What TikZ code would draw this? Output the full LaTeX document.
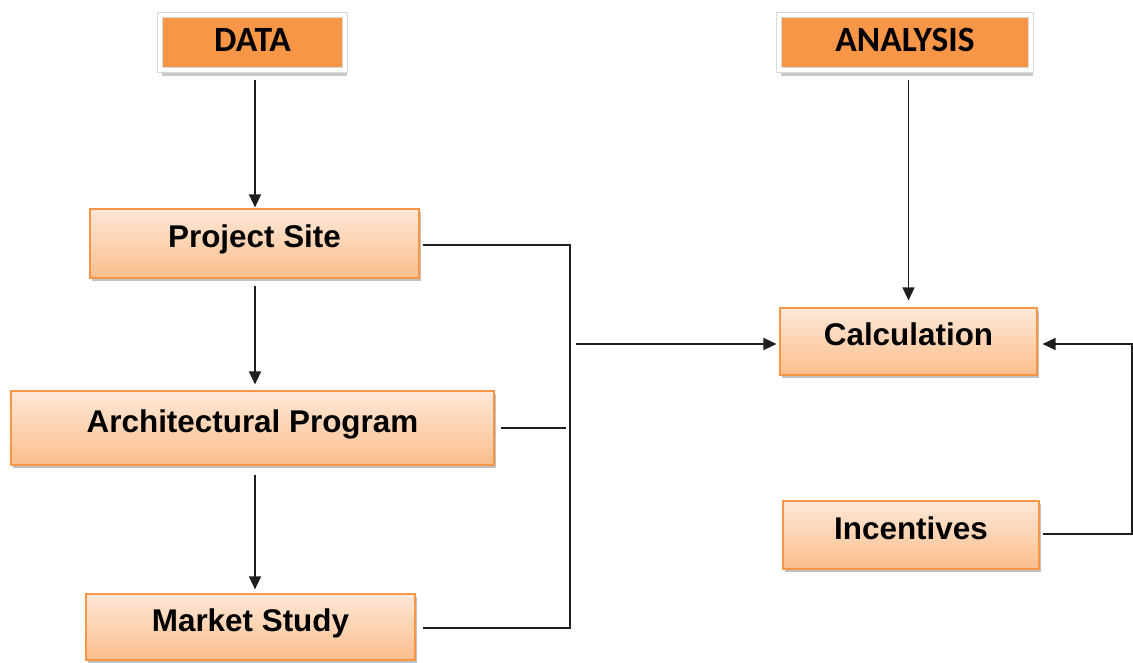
\documentclass[tikz,border=0pt]{standalone}
\usepackage{fontspec}
\usetikzlibrary{arrows.meta,shadows,calc}
\newfontfamily\boxfont{Liberation Sans}
\newfontfamily\headfont{Carlito}
\definecolor{accent}{HTML}{F79646}
\definecolor{peachtop}{HTML}{FEE8D8}
\definecolor{peachbot}{HTML}{FBBE8C}
\definecolor{wire}{HTML}{1E1E1E}
\tikzset{
  boxshadow/.style={drop shadow={shadow xshift=2pt,shadow yshift=-3pt,opacity=0.35,fill=black!70}},
  headbox/.style={rectangle,fill=accent,draw=black!15,line width=0.6pt,double=white,double distance=4.6pt,
    drop shadow={shadow xshift=1.5pt,shadow yshift=-6.5pt,opacity=0.3,fill=black!70},
    font=\headfont\bfseries\fontsize{35.5}{40}\selectfont,text=black,
    text height=23pt,text depth=4pt,inner sep=0pt},
  stepbox/.style={rectangle,draw=accent,line width=1.2pt,top color=peachtop,bottom color=peachbot,
    boxshadow,font=\boxfont\bfseries\fontsize{31.4}{36}\selectfont,text=black,
    text height=22pt,text depth=14pt,inner sep=0pt},
  wireline/.style={draw=wire,line width=1.6pt},
  arrowline/.style={wireline,-{Triangle[length=13pt,width=12pt]}},
}
\begin{document}
\begin{tikzpicture}[x=1pt,y=-1pt]
\useasboundingbox (0,0) rectangle (1133,663);

% column headers
\node[headbox,minimum width=185pt,minimum height=55pt] (data) at (252.5,42.5) {DATA};
\node[headbox,minimum width=252pt,minimum height=55pt] (analysis) at (905,42.5) {ANALYSIS};

% data inputs
\node[stepbox,minimum width=329pt,minimum height=69pt] (site) at (254.5,243.5) {Project Site};
\node[stepbox,minimum width=483pt,minimum height=74pt] (arch) at (252.5,428) {Architectural Program};
\node[stepbox,minimum width=329pt,minimum height=66pt] (market) at (250.5,627) {Market Study};

% analysis side
\node[stepbox,minimum width=257pt,minimum height=67pt] (calc) at (908.5,341.5) {Calculation};
\node[stepbox,minimum width=256pt,minimum height=68pt] (incent) at (911,535) {Incentives};

% bracket and return-line positions
\coordinate (brk) at (570,628);
\coordinate (rt) at (1132,440);

% vertical flow in the data column
\draw[arrowline,shorten <=10pt,shorten >=1pt] ($(data.south)+(2.5,0)$) -- ($(site.north)+(0.5,0)$);
\draw[arrowline,shorten <=7pt,shorten >=6pt] ($(site.south)+(0.5,0)$) -- ($(arch.north)+(2.5,0)$);
\draw[arrowline,shorten <=9pt,shorten >=4pt] ($(arch.south)+(2.5,0)$) -- ($(market.north)+(4.5,0)$);

% bracket collecting the three inputs
\draw[wireline,shorten <=3pt] ($(site.east)+(0,1.5)$) -| (brk) -- ($(brk -| market.east)+(7,0)$);
\draw[wireline,shorten <=6pt,shorten >=4pt] (arch.east) -- (arch.east -| brk);
\draw[arrowline,shorten <=6pt,shorten >=3pt] ($(brk |- calc.west)+(0,2.5)$) -- ($(calc.west)+(0,2.5)$);

% analysis into calculation
\draw[arrowline,shorten <=10pt,shorten >=7pt] (calc.north |- analysis.south) -- (calc.north);

% incentives loop back into calculation
\draw[arrowline,shorten <=3pt,shorten >=5pt] ($(incent.east)+(0,-1)$) -| (rt) |- ($(calc.east)+(0,2.5)$);
\end{tikzpicture}
\end{document}
